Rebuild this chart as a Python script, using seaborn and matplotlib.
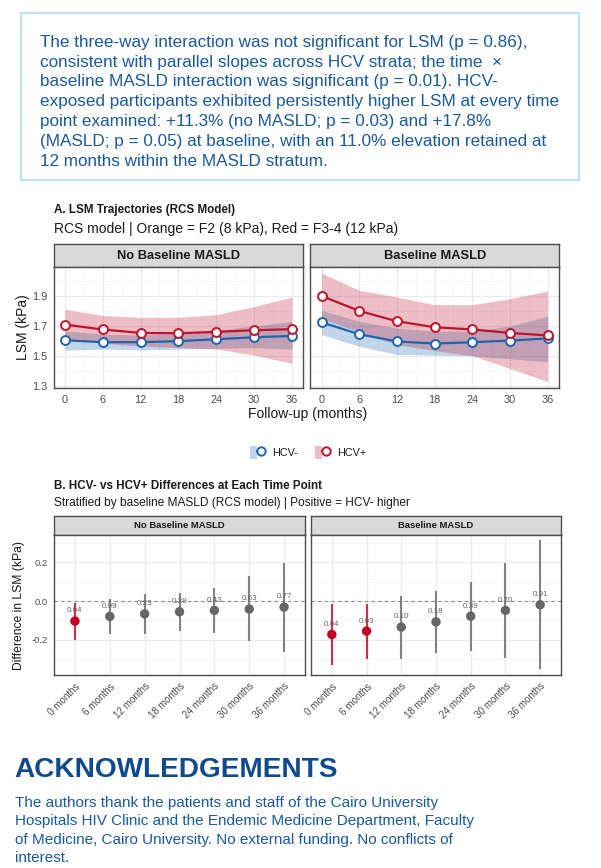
import numpy as np
import pandas as pd
import seaborn as sns
import matplotlib.pyplot as plt
from matplotlib.patches import Rectangle, Patch
from matplotlib.lines import Line2D
from matplotlib.legend_handler import HandlerTuple

# ---- data ----
months = [0, 6, 12, 18, 24, 30, 36]
month_labels = ['0 months', '6 months', '12 months', '18 months',
                '24 months', '30 months', '36 months']
strata = ['No Baseline MASLD', 'Baseline MASLD']
groups = ['HCV-', 'HCV+']

# Panel A: RCS fitted LSM (kPa) and 95% band
neg_fit_no = [1.604, 1.591, 1.591, 1.598, 1.611, 1.624, 1.633]
neg_lo_no = [1.538, 1.545, 1.540, 1.545, 1.550, 1.555, 1.545]
neg_hi_no = [1.665, 1.645, 1.640, 1.650, 1.670, 1.700, 1.730]
pos_fit_no = [1.709, 1.676, 1.653, 1.651, 1.660, 1.671, 1.678]
pos_lo_no = [1.610, 1.585, 1.565, 1.555, 1.545, 1.505, 1.449]
pos_hi_no = [1.811, 1.770, 1.757, 1.757, 1.775, 1.830, 1.893]

neg_fit_yes = [1.724, 1.644, 1.596, 1.582, 1.591, 1.602, 1.616]
neg_lo_yes = [1.642, 1.564, 1.509, 1.505, 1.500, 1.480, 1.460]
neg_hi_yes = [1.804, 1.730, 1.685, 1.665, 1.665, 1.700, 1.764]
pos_fit_yes = [1.900, 1.800, 1.731, 1.691, 1.676, 1.653, 1.636]
pos_lo_yes = [1.750, 1.660, 1.575, 1.535, 1.500, 1.416, 1.327]
pos_hi_yes = [2.053, 1.938, 1.893, 1.842, 1.842, 1.882, 1.933]

# Panel B: HCV- minus HCV+ difference (kPa), 95% CI, p-value
diff_no = [-0.103, -0.079, -0.066, -0.055, -0.048, -0.041, -0.031]
diff_lo_no = [-0.200, -0.172, -0.169, -0.155, -0.166, -0.207, -0.264]
diff_hi_no = [-0.010, 0.009, 0.038, 0.043, 0.069, 0.128, 0.197]
p_no = [0.04, 0.09, 0.23, 0.29, 0.43, 0.63, 0.77]
diff_yes = [-0.172, -0.155, -0.134, -0.107, -0.078, -0.048, -0.019]
diff_lo_yes = [-0.332, -0.298, -0.298, -0.267, -0.257, -0.295, -0.350]
diff_hi_yes = [-0.013, -0.017, 0.026, 0.050, 0.100, 0.197, 0.314]
p_yes = [0.04, 0.03, 0.10, 0.18, 0.39, 0.70, 0.91]

summary_lines = [
    "The three-way interaction was not significant for LSM (p = 0.86),",
    "consistent with parallel slopes across HCV strata; the time  \u00d7",
    "baseline MASLD interaction was significant (p = 0.01). HCV-",
    "exposed participants exhibited persistently higher LSM at every time",
    "point examined: +11.3% (no MASLD; p = 0.03) and +17.8%",
    "(MASLD; p = 0.05) at baseline, with an 11.0% elevation retained at",
    "12 months within the MASLD stratum.",
]
ack_lines = [
    "The authors thank the patients and staff of the Cairo University",
    "Hospitals HIV Clinic and the Endemic Medicine Department, Faculty",
    "of Medicine, Cairo University. No external funding. No conflicts of",
    "interest.",
]

# ---- long tables ----
rows = []
fits = {
    ('No Baseline MASLD', 'HCV-'): (neg_fit_no, neg_lo_no, neg_hi_no),
    ('No Baseline MASLD', 'HCV+'): (pos_fit_no, pos_lo_no, pos_hi_no),
    ('Baseline MASLD', 'HCV-'): (neg_fit_yes, neg_lo_yes, neg_hi_yes),
    ('Baseline MASLD', 'HCV+'): (pos_fit_yes, pos_lo_yes, pos_hi_yes),
}
for (s, g), (f, lo, hi) in fits.items():
    for m, a, b, c in zip(months, f, lo, hi):
        rows.append(dict(stratum=s, group=g, month=m, lsm=a, lo=b, hi=c))
dfA = pd.DataFrame(rows)

rows = []
for s, d, lo, hi, p in [('No Baseline MASLD', diff_no, diff_lo_no, diff_hi_no, p_no),
                        ('Baseline MASLD', diff_yes, diff_lo_yes, diff_hi_yes, p_yes)]:
    for i in range(len(months)):
        rows.append(dict(stratum=s, pos=i, diff=d[i], lo=lo[i], hi=hi[i], p=p[i],
                         sig='sig' if p[i] < 0.05 else 'ns'))
dfB = pd.DataFrame(rows)

# ---- style ----
sns.set_style('white')
plt.rcParams['font.family'] = ['Liberation Sans', 'DejaVu Sans']

W, H = 601, 868
fig = plt.figure(figsize=(W / 100, H / 100), dpi=100)


def ax_px(x0, y0, x1, y1):
    return fig.add_axes([x0 / W, 1 - y1 / H, (x1 - x0) / W, (y1 - y0) / H])


def ftext(x, y, s, **kw):
    fig.text(x / W, 1 - y / H, s, **kw)


blue = '#1F65AE'
red = '#C0122C'
grey_pt = '#666666'
txt_blue = '#1A5A9C'
border = '#4D4D4D'
tick_col = '#4D4D4D'
band_alpha = 0.27


def style_panel(ax):
    for sp in ax.spines.values():
        sp.set_color(border)
        sp.set_linewidth(1.0)
    ax.set_facecolor('white')
    ax.tick_params(axis='both', length=2.5, width=0.6, color=border,
                   labelcolor=tick_col, pad=2)
    ax.set_axisbelow(True)


def strip(x0, y0, x1, y1, label, size):
    sax = ax_px(x0, y0, x1, y1)
    sax.set_facecolor('#D9D9D9')
    sax.set_xticks([])
    sax.set_yticks([])
    for sp in sax.spines.values():
        sp.set_color(border)
        sp.set_linewidth(1.0)
    sax.text(0.5, 0.5, label, ha='center', va='center', fontsize=size,
             fontweight='bold', color='#1A1A1A', transform=sax.transAxes)


# ---- summary box ----
fig.patches.append(Rectangle((21 / W, 1 - 180 / H), (579 - 21) / W, (180 - 12.5) / H,
                             transform=fig.transFigure, fill=False,
                             edgecolor='#BFE2F4', linewidth=1.5))
for k, line in enumerate(summary_lines):
    ftext(40.5, 46.7 + 19.8 * k, line, fontsize=12.3, color=txt_blue, va='baseline')

# ---- panel A ----
ftext(54.5, 210, 'A. LSM Trajectories (RCS Model)', fontsize=8.4,
      fontweight='bold', color='#1A1A1A', va='center')
ftext(54.5, 229.5, 'RCS model | Orange = F2 (8 kPa), Red = F3-4 (12 kPa)',
      fontsize=10, color='#1A1A1A', va='center')

colsA = [(53.5, 303.3), (310.3, 559)]
for j, s in enumerate(strata):
    x0, x1 = colsA[j]
    strip(x0, 244.3, x1, 266.8, s, 9.3)
    ax = ax_px(x0, 266.8, x1, 388.3)
    style_panel(ax)
    sub = dfA[dfA.stratum == s]
    for g, c in zip(groups, [blue, red]):
        d = sub[sub.group == g]
        ax.fill_between(d.month, d.lo, d.hi, color=c, alpha=band_alpha, linewidth=0)
    for g, c in zip(groups, [blue, red]):
        d = sub[sub.group == g]
        sns.lineplot(data=d, x='month', y='lsm', color=c, linewidth=1.6,
                     marker='o', markersize=6.4, markerfacecolor='white',
                     markeredgecolor=c, markeredgewidth=1.4, ax=ax,
                     legend=False, zorder=3)
    ax.set_xlim(-1.8, 37.8)
    ax.set_ylim(1.283, 2.095)
    ax.set_xticks(months)
    ax.set_xticks([3, 9, 15, 21, 27, 33], minor=True)
    ax.set_yticks([1.3, 1.5, 1.7, 1.9])
    ax.set_yticks([1.4, 1.6, 1.8, 2.0], minor=True)
    ax.tick_params(which='minor', length=0)
    ax.grid(which='major', color='#EBEBEB', linewidth=0.9)
    ax.grid(which='minor', color='#F4F4F4', linewidth=0.5)
    ax.tick_params(labelsize=7.9)
    ax.set_xlabel('')
    ax.set_ylabel('')
    if j == 1:
        ax.set_yticklabels([])

ftext(307.5, 414.3, 'Follow-up (months)', fontsize=10, color='#1A1A1A',
      ha='center', va='center')
ftext(23, 327.5, 'LSM (kPa)', fontsize=10, color='#1A1A1A', ha='center',
      va='center', rotation=90)

handles = []
for c in [blue, red]:
    handles.append((Patch(facecolor=c, alpha=band_alpha, edgecolor='none'),
                    Line2D([], [], color=c, linewidth=1.6, marker='o', markersize=6,
                           markerfacecolor='white', markeredgecolor=c,
                           markeredgewidth=1.4)))
fig.legend(handles, groups, handler_map={tuple: HandlerTuple(ndivide=None, pad=0)},
           loc='center', bbox_to_anchor=(308 / W, 1 - 452.3 / H), ncol=2,
           frameon=False, fontsize=7.8, handlelength=1.39, handleheight=1.39,
           columnspacing=1.57, handletextpad=0.65, labelcolor='#1A1A1A')

# ---- panel B ----
ftext(54, 485.7, 'B. HCV- vs HCV+ Differences at Each Time Point', fontsize=8.4,
      fontweight='bold', color='#1A1A1A', va='center')
ftext(54, 503.3, 'Stratified by baseline MASLD (RCS model) | Positive = HCV- higher',
      fontsize=8.6, color='#1A1A1A', va='center')

colsB = [(54, 305), (311, 561)]
pal = {'sig': '#C4001E', 'ns': grey_pt}
for j, s in enumerate(strata):
    x0, x1 = colsB[j]
    strip(x0, 515.7, x1, 534.5, s, 6.8)
    ax = ax_px(x0, 534.5, x1, 675)
    style_panel(ax)
    sub = dfB[dfB.stratum == s]
    ax.axhline(0, color='#8C8C8C', linewidth=0.8, linestyle=(0, (3, 3)), zorder=1)
    for key in ['ns', 'sig']:
        d = sub[sub.sig == key]
        ax.vlines(d.pos, d.lo, d.hi, color=pal[key], linewidth=1.5,
                  alpha=0.8, zorder=2)
    sns.scatterplot(data=sub, x='pos', y='diff', hue='sig', palette=pal, s=46,
                    linewidth=0, legend=False, ax=ax, zorder=3)
    for _, r in sub.iterrows():
        ax.annotate(f"{r.p:.2f}", (r.pos, r['diff']), xytext=(0, 7.3),
                    textcoords='offset points', ha='center', va='center',
                    fontsize=5.8, color='#666666', zorder=4)
    ax.set_xlim(-0.6, 6.6)
    ax.set_ylim(-0.381, 0.343)
    ax.set_xticks(range(len(months)))
    ax.set_xticklabels(month_labels, rotation=45, ha='right',
                       rotation_mode='anchor', fontsize=7.1)
    ax.set_yticks([-0.2, 0.0, 0.2])
    ax.set_yticklabels(['-0.2', '0.0', '0.2'])
    ax.set_yticks([-0.3, -0.1, 0.1, 0.3], minor=True)
    ax.tick_params(which='minor', length=0)
    ax.tick_params(axis='y', labelsize=6.8)
    ax.grid(which='major', color='#EBEBEB', linewidth=0.9)
    ax.grid(which='minor', axis='y', color='#F4F4F4', linewidth=0.5)
    ax.set_xlabel('')
    ax.set_ylabel('')
    if j == 1:
        ax.set_yticklabels([])

ftext(19, 605, 'Difference in LSM (kPa)', fontsize=8.7, color='#1A1A1A',
      ha='center', va='center', rotation=90)

# ---- acknowledgements ----
ftext(14.5, 777.3, 'ACKNOWLEDGEMENTS', fontsize=20.2, fontweight='bold',
      color='#0E4A8C', va='baseline')
for k, line in enumerate(ack_lines):
    ftext(15, 807.3 + 18.2 * k, line, fontsize=11, color=txt_blue, va='baseline')

fig.savefig('out.png', dpi=100, facecolor='white')
